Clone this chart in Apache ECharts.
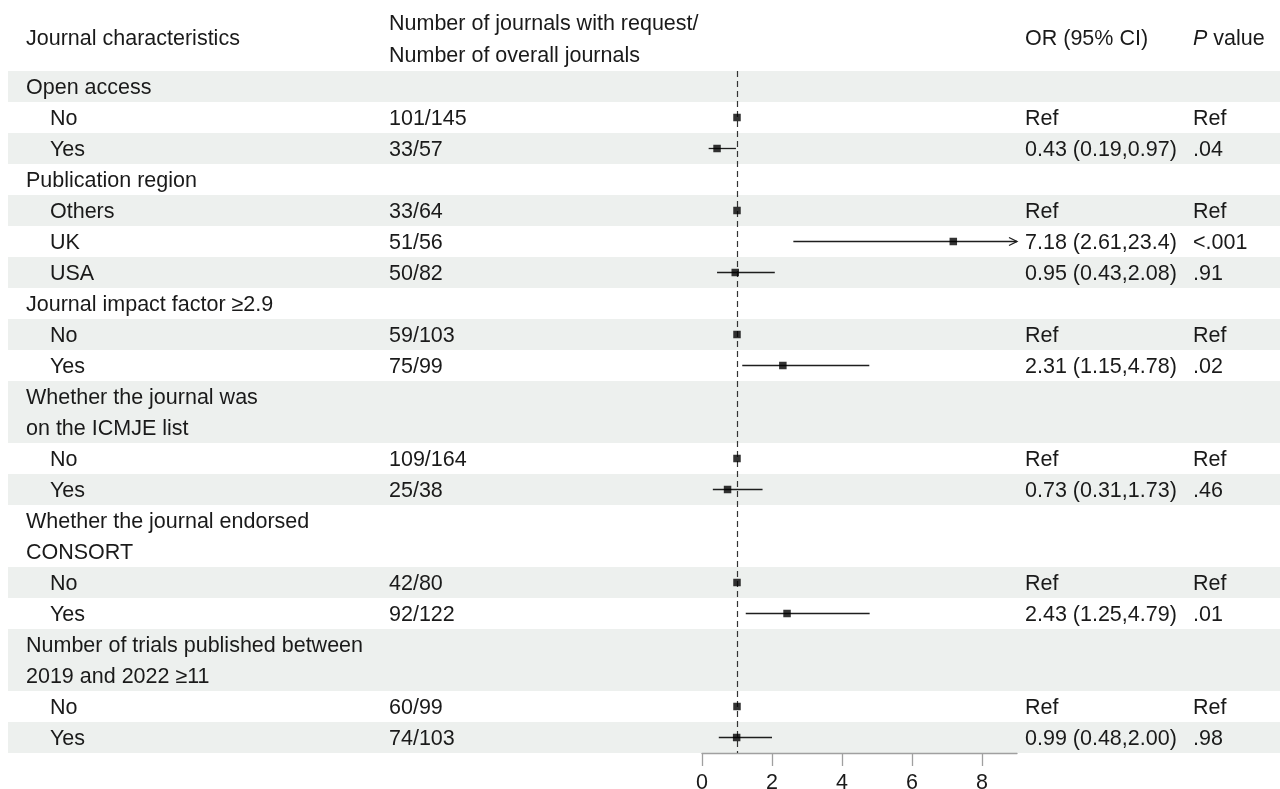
<!DOCTYPE html>
<html>
<head>
<meta charset="utf-8">
<script src="https://cdn.jsdelivr.net/npm/echarts@6/dist/echarts.min.js"></script>
<style>
  html, body { margin: 0; padding: 0; background: #ffffff; }
  #chart { width: 1280px; height: 789px; }
</style>
</head>
<body>
<div id="chart"></div>
<script>
// Row labels (a "\n" makes a two-line heading row)
const rowLabels = [
  'Open access', 'No', 'Yes',
  'Publication region', 'Others', 'UK', 'USA',
  'Journal impact factor \u22652.9', 'No', 'Yes',
  'Whether the journal was\non the ICMJE list', 'No', 'Yes',
  'Whether the journal endorsed\nCONSORT', 'No', 'Yes',
  'Number of trials published between\n2019 and 2022 \u226511', 'No', 'Yes'
];
const isHeading = [1,0,0, 1,0,0,0, 1,0,0, 1,0,0, 1,0,0, 1,0,0];
const counts = [
  '', '101/145', '33/57',
  '', '33/64', '51/56', '50/82',
  '', '59/103', '75/99',
  '', '109/164', '25/38',
  '', '42/80', '92/122',
  '', '60/99', '74/103'
];
const oddsRatio = [null,1,0.43, null,1,7.18,0.95, null,1,2.31, null,1,0.73, null,1,2.43, null,1,0.99];
const ciLower   = [null,null,0.19, null,null,2.61,0.43, null,null,1.15, null,null,0.31, null,null,1.25, null,null,0.48];
const ciUpper   = [null,null,0.97, null,null,23.4,2.08, null,null,4.78, null,null,1.73, null,null,4.79, null,null,2.00];
const orLabels = [
  '', 'Ref', '0.43 (0.19,0.97)',
  '', 'Ref', '7.18 (2.61,23.4)', '0.95 (0.43,2.08)',
  '', 'Ref', '2.31 (1.15,4.78)',
  '', 'Ref', '0.73 (0.31,1.73)',
  '', 'Ref', '2.43 (1.25,4.79)',
  '', 'Ref', '0.99 (0.48,2.00)'
];
const pLabels = [
  '', 'Ref', '.04',
  '', 'Ref', '<.001', '.91',
  '', 'Ref', '.02',
  '', 'Ref', '.46',
  '', 'Ref', '.01',
  '', 'Ref', '.98'
];
const axisTicks = [0, 2, 4, 6, 8];
const axisMax = 9;

// Row slots: each text line takes one slot on the y axis
const rowSpan = rowLabels.map(s => s.split('\n').length);
const rowStart = [];
let acc = 0;
rowSpan.forEach(n => { rowStart.push(acc); acc += n; });
const totalSlots = acc;
const rowCenter = rowStart.map((s, i) => s + rowSpan[i] / 2);

const FAMILY = '"Liberation Sans", Arial, sans-serif';
const FONT_SIZE = 21.5;
const FONT = FONT_SIZE + 'px ' + FAMILY;
const TEXT = '#1a1a1a';
const BAND = '#edf0ee';
const COL = { heading: 26, item: 50, count: 389, or: 1025, p: 1193 };
const TEXT_DY = 1.5;

const chart = echarts.init(document.getElementById('chart'), null, { renderer: 'canvas' });

const option = {
  backgroundColor: '#ffffff',
  animation: false,
  grid: { left: 702, right: 263, top: 71, bottom: 36, containLabel: false, outerBoundsMode: 'none' },
  xAxis: {
    type: 'value', min: 0, max: axisMax, interval: 2, position: 'bottom',
    splitLine: { show: false },
    axisLine: { show: true, onZero: false, lineStyle: { color: '#a0a0a0', width: 1.3 } },
    axisTick: { show: true, length: 13, customValues: axisTicks, lineStyle: { color: '#a0a0a0', width: 1.3 } },
    axisLabel: { customValues: axisTicks, margin: 19, fontSize: FONT_SIZE, color: TEXT, fontFamily: FAMILY }
  },
  yAxis: { type: 'value', min: 0, max: totalSlots, inverse: true, show: false },
  graphic: [
    { type: 'text', style: { x: COL.heading, y: 39, text: 'Journal characteristics', font: FONT, fill: TEXT, verticalAlign: 'middle' } },
    { type: 'text', style: { x: COL.count, y: 40.5, text: 'Number of journals with request/\nNumber of overall journals', font: FONT, fill: TEXT, verticalAlign: 'middle', lineHeight: 32 } },
    { type: 'text', style: { x: COL.or, y: 39, text: 'OR (95% CI)', font: FONT, fill: TEXT, verticalAlign: 'middle' } },
    { type: 'text', style: { x: COL.p, y: 39, text: '{i|P} value', font: FONT, fill: TEXT, verticalAlign: 'middle',
        rich: { i: { fontStyle: 'italic', fontSize: FONT_SIZE, fontFamily: FAMILY, color: TEXT } } } }
  ],
  series: [
    {
      // alternating row bands
      type: 'custom', name: 'bands', z: 0, silent: true,
      data: rowLabels.map((_, i) => [rowStart[i], rowSpan[i]]),
      renderItem: (params, api) => {
        const i = params.dataIndex;
        if (i % 2 !== 0) return null;
        const top = api.coord([0, rowStart[i]])[1];
        const bottom = api.coord([0, rowStart[i] + rowSpan[i]])[1];
        return { type: 'rect', shape: { x: 8, y: top, width: 1272, height: bottom - top }, style: { fill: BAND } };
      }
    },
    {
      // table text columns
      type: 'custom', name: 'table', z: 3, silent: true,
      data: rowLabels.map((_, i) => [0, rowCenter[i]]),
      renderItem: (params, api) => {
        const i = params.dataIndex;
        const y = api.coord([0, rowCenter[i]])[1] + TEXT_DY;
        const mk = (x, text) => ({ type: 'text', style: { x, y, text, font: FONT, fill: TEXT, verticalAlign: 'middle', lineHeight: 31 } });
        const children = [mk(isHeading[i] ? COL.heading : COL.item, rowLabels[i])];
        if (counts[i]) children.push(mk(COL.count, counts[i]));
        if (orLabels[i]) children.push(mk(COL.or, orLabels[i]));
        if (pLabels[i]) children.push(mk(COL.p, pLabels[i]));
        return { type: 'group', children };
      }
    },
    {
      // confidence intervals, with an arrow where the upper limit runs past the axis
      type: 'custom', name: 'ci', z: 4, silent: true,
      data: rowLabels.map((_, i) => [ciLower[i], ciUpper[i], rowCenter[i]]).filter(d => d[0] != null),
      renderItem: (params, api) => {
        const lo = api.value(0), hi = api.value(1), yc = api.value(2);
        const p0 = api.coord([lo, yc]);
        const p1 = api.coord([Math.min(hi, axisMax), yc]);
        const style = { stroke: '#1e1e1e', lineWidth: 1.3, fill: null };
        const children = [{ type: 'line', shape: { x1: p0[0], y1: p0[1], x2: p1[0], y2: p1[1] }, style }];
        if (hi > axisMax) {
          children.push({ type: 'polyline', shape: { points: [[p1[0] - 8, p1[1] - 4], [p1[0], p1[1]], [p1[0] - 8, p1[1] + 4]] }, style });
        }
        return { type: 'group', children };
      }
    },
    {
      type: 'scatter', name: 'OR', z: 5, silent: true,
      symbol: 'rect', symbolSize: 7.5,
      itemStyle: { color: '#000000' },
      data: rowLabels.map((_, i) => [oddsRatio[i], rowCenter[i]]).filter(d => d[0] != null),
      markLine: {
        silent: true, symbol: ['none', 'none'], label: { show: false },
        lineStyle: { color: '#333333', type: [6, 4], width: 1.2 },
        data: [{ xAxis: 1 }]
      }
    }
  ]
};

chart.setOption(option);
</script>
</body>
</html>
